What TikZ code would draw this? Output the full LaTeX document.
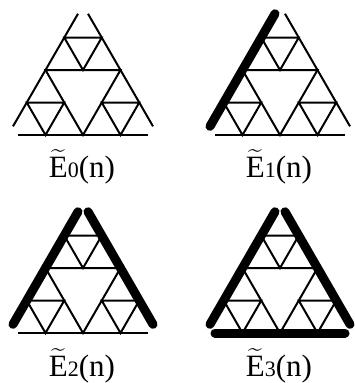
\documentclass[tikz,border=0pt]{standalone}
\usepackage{amsmath}
\usepackage{fontspec}
\setmainfont{Liberation Serif}
\usetikzlibrary{calc}

\begin{document}
\begin{tikzpicture}[x=1pt,y=-1pt,
   edge/.style={line width=2pt},
   heavy/.style={line width=9pt,line cap=round},
   lbl/.style={anchor=base,inner sep=0pt}]
  \useasboundingbox (0,0) rectangle (354,383);
  \foreach \k/\cx/\by/\ly in {0/83/135/177,1/280/135/177,2/83/333/376,3/280/333/376}{
    \begin{scope}[shift={(\cx-75,\by)},x={(37.5pt,0pt)},y={(18.75pt,32.476pt)}]
      \coordinate (A) at (0,0); \coordinate (B) at (4,0); \coordinate (C) at (0,4);
      % inner triangles
      \foreach \i/\j/\s in {0/0/1,2/0/1,0/2/1,0/0/2}
        \draw[edge] (\i+\s,\j) -- (\i+\s,\j+\s) -- (\i,\j+\s) -- cycle;
      % outer sides, cut short at the corners
      \foreach \p/\q/\n in {A/C/1,B/C/2,A/B/3}{
        \ifnum\n>\k \def\w{edge}\else\def\w{heavy}\fi
        \draw[\w] ($(\p)!10pt!(\q)$) -- ($(\q)!10pt!(\p)$);
      }
    \end{scope}
    \node[lbl] (e\k) at (\cx-1,\ly) {\fontsize{31}{36}\selectfont$\widetilde{\text{E}}${\fontsize{22}{26}\selectfont\k}(n)};
  }
\end{tikzpicture}
\end{document}
